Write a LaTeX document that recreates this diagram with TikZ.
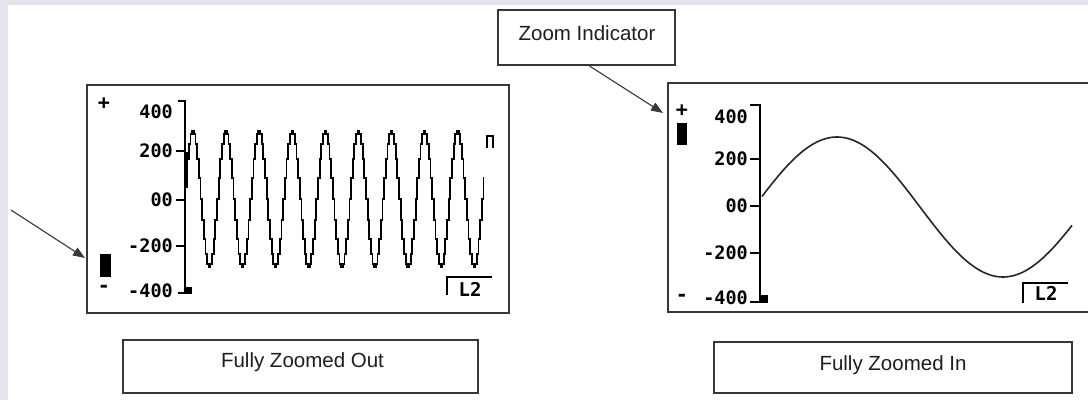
\documentclass[tikz,border=0pt]{standalone}
\usepackage{fontspec}
\setmainfont{Liberation Sans}
\newfontfamily\lcdfont{DejaVu Sans Mono}
\usetikzlibrary{arrows.meta}
\definecolor{bandgray}{RGB}{228,229,234}
\definecolor{boxline}{RGB}{55,55,55}
\definecolor{inkc}{RGB}{30,30,30}
\begin{document}
\begin{tikzpicture}[x=1pt,y=-1pt,
  scrbox/.style={draw=boxline,line width=2pt,inner sep=0pt},
  lblbox/.style={draw=boxline,line width=2pt,inner sep=0pt},
  lbltxt/.style={font=\fontsize{20.5}{22}\selectfont,text=inkc,inner sep=0pt,anchor=base},
  lcdtxt/.style={font=\lcdfont\bfseries\fontsize{18.5}{18}\selectfont,inner sep=0pt,anchor=east},
  lcdsmall/.style={font=\lcdfont\bfseries\fontsize{19}{19}\selectfont,inner sep=0pt},
  signtxt/.style={font=\lcdfont\bfseries\fontsize{20}{20}\selectfont,inner sep=0pt},
  axisln/.style={line width=2pt,black},
  wavepath/.style={line width=1.8pt,black,line join=miter},
  smoothwave/.style={line width=1.6pt,black!85,line join=round},
  ptr/.style={line width=1.1pt,boxline,-{Triangle[length=12pt,width=9pt]}}
]
\useasboundingbox (0,0) rectangle (1088,400);
\clip (0,0) rectangle (1088,400);
\fill[white] (0,0) rectangle (1088,400);
\fill[bandgray] (0,0) rectangle (1088,5);
\fill[bandgray] (0,0) rectangle (8,400);

% ---------- label boxes ----------
\node[lblbox,minimum width=177pt,minimum height=55pt] (zi) at (586.5,37.5) {};
\node[lbltxt] (zitxt) at (587,40) {Zoom Indicator};
\node[lblbox,minimum width=355pt,minimum height=53pt] (outbox) at (300.5,366.5) {};
\node[lbltxt] (outtxt) at (302.5,367) {Fully Zoomed Out};
\node[lblbox,minimum width=358pt,minimum height=51pt] (inbox) at (893,367.5) {};
\node[lbltxt] (intxt) at (893,370) {Fully Zoomed In};

% ---------- left screen ----------
\node[scrbox,minimum width=422pt,minimum height=228pt] (scrL) at (298,199) {};
\draw[axisln] (178,101) -- (185,101) -- (185,293) -- (178,293);
\draw[line width=4pt] (185.5,152) -- (185.5,188);
\fill[black] (185,287) rectangle (192,294);
\draw[axisln] (176,151) -- (185,151);
\draw[axisln] (176,200) -- (185,200);
\draw[axisln] (176,246) -- (185,246);
\node[lcdtxt] (l400) at (173,112) {400};
\node[lcdtxt] (l200) at (173,151) {200};
\node[lcdtxt] (l00) at (173,200) {00};
\node[lcdtxt] (lm200) at (173,246) {-200};
\node[lcdtxt] (lm400) at (173,291) {-400};
\node[signtxt] (lplus) at (104,104) {+};
\node[signtxt] (lminus) at (104,289) {-};
\fill[black] (100,254) rectangle (111,277);
\draw[axisln] (447,295) -- (447,277) -- (492,277);
\node[lcdsmall] (lL2) at (470,289) {L2};
% stepped wave, twenty samples per period
\draw[wavepath] plot[domain=186.38:484.28,samples=181,const plot mark mid] (\x,{199-68*cos((\x-193)*10.876)});
\draw[wavepath] (487,148) -- (487,136) -- (493,136) -- (493,148);

% ---------- right screen ----------
\node[scrbox,minimum width=440pt,minimum height=229pt] (scrR) at (888,197.5) {};
\draw[axisln] (750,105) -- (760,105) -- (760,302) -- (750,302);
\fill[black] (760,295) rectangle (768,303);
\draw[axisln] (750,159) -- (760,159);
\draw[axisln] (750,206) -- (760,206);
\draw[axisln] (750,253) -- (760,253);
\node[lcdtxt] (r400) at (748,117) {400};
\node[lcdtxt] (r200) at (748,159) {200};
\node[lcdtxt] (r00) at (748,206) {00};
\node[lcdtxt] (rm200) at (748,253) {-200};
\node[lcdtxt] (rm400) at (748,298) {-400};
\node[signtxt] (rplus) at (682,111) {+};
\node[signtxt] (rminus) at (682,298) {-};
\fill[black] (677,123) rectangle (687,145);
\draw[axisln] (1023,303) -- (1023,283) -- (1068,283);
\node[lcdsmall] (rL2) at (1046,293) {L2};
\draw[smoothwave] plot[domain=762:1072,samples=120,smooth] (\x,{207-70*sin((\x-754)*1.0843)});

% ---------- pointers ----------
\coordinate (lstart) at (11,210);
\coordinate (lend) at (85,258);
\draw[ptr] (lstart) -- (lend);
\coordinate (zstart) at ([xshift=3pt]zi.south);
\coordinate (zend) at (663,113);
\draw[ptr] (zstart) -- (zend);
\end{tikzpicture}
\end{document}
